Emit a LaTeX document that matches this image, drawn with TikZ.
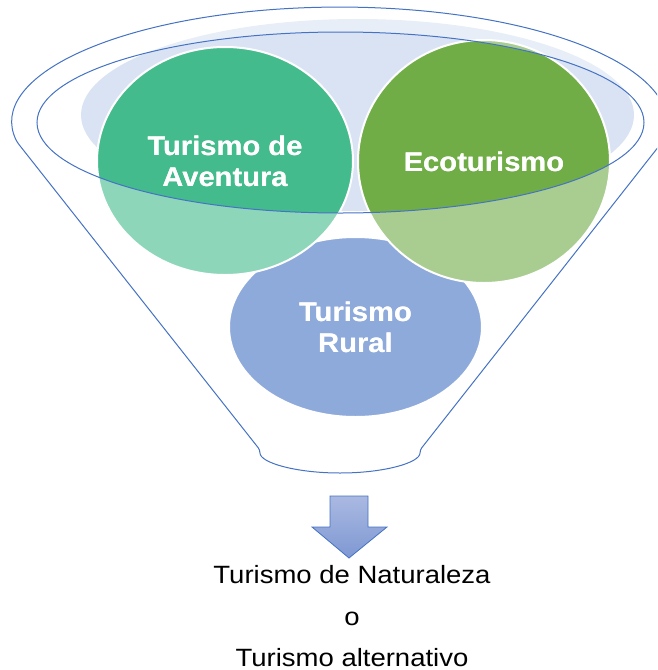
\documentclass[tikz,border=0pt]{standalone}
\usepackage{fontspec}
\setmainfont{Liberation Sans}
\newfontfamily\cfont[FakeStretch=1.08]{Liberation Sans}
\newfontfamily\capfont[FakeStretch=1.1]{Liberation Sans}
\usetikzlibrary{shapes.geometric}
\definecolor{rim}{HTML}{4472C4}
\definecolor{aven}{HTML}{44BB8C}
\definecolor{eco}{HTML}{70AD47}
\definecolor{rural}{HTML}{4472C4}
\definecolor{bowl}{HTML}{DAE3F3}
\definecolor{arrtop}{HTML}{AAB9E1}
\definecolor{arrbot}{HTML}{7E98D3}
\begin{document}
\begin{tikzpicture}[x=1pt,y=-1pt,
  blob/.style={ellipse, draw=white, line width=2pt, inner sep=0pt, text=white, align=center,
    font=\cfont\bfseries\fontsize{27}{31}\selectfont},
  rimline/.style={draw=rim, line width=1pt},
  caption/.style={anchor=base, font=\capfont\fontsize{25}{30}\selectfont, text=black, inner sep=0pt}]
\clip (0,0) rectangle (657,670);
% bowl background
\fill[bowl] (357.5,115) ellipse[x radius=276.5pt, y radius=96pt];
% circles
\node[blob, fill=rural, minimum width=253pt, minimum height=180pt] (rural) at (355.5,327) {Turismo\\Rural};
\node[blob, fill=aven, minimum width=256pt, minimum height=228pt] (aven) at (225,161) {Turismo de\\Aventura};
\node[blob, fill=eco, minimum width=252pt, minimum height=243pt] (eco) at (484,161.5) {Ecoturismo};
% translucent funnel body
\fill[white, fill opacity=0.4, even odd rule]
  (17,142) arc[start angle=189.4, end angle=-9.4, x radius=327pt, y radius=116pt]
  -- (420,450) arc[start angle=0, end angle=-180, x radius=80pt, y radius=23pt] -- cycle
  (340.5,122.5) ellipse[x radius=303.5pt, y radius=90.5pt];
% funnel outlines
\draw[rimline, rounded corners=3pt]
  (17,142) arc[start angle=189.4, end angle=-9.4, x radius=327pt, y radius=116pt]
  -- (420,450) arc[start angle=0, end angle=-180, x radius=80pt, y radius=23pt] -- cycle;
\draw[rimline] (340.5,122.5) ellipse[x radius=303.5pt, y radius=90.5pt];
% text re-drawn on top
\node[blob, draw=none, fill=none] at (rural.center) {Turismo\\Rural};
\node[blob, draw=none, fill=none] at (aven.center) {Turismo de\\Aventura};
\node[blob, draw=none, fill=none] at (eco.center) {Ecoturismo};
% arrow
\shade[top color=arrtop, bottom color=arrbot, draw=rim, line width=0.8pt]
  (330,496) -- (368,496) -- (368,527) -- (387,527) -- (349,558) -- (312,527) -- (330,527) -- cycle;
% captions
\node[caption] (nat) at (352,583) {Turismo de Naturaleza};
\node[caption] (o) at (352,625) {o};
\node[caption] (alt) at (352,666) {Turismo alternativo};
\end{tikzpicture}
\end{document}
